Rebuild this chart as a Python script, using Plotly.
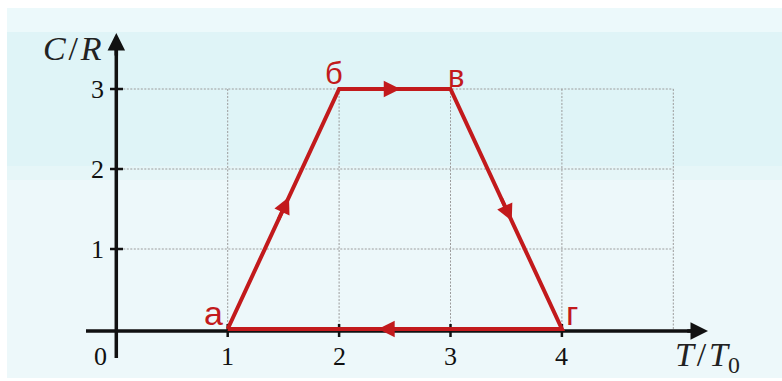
import plotly.graph_objects as go

# Cycle a -> б -> в -> г -> a in the (T/T0, C/R) plane
point_names = ["а", "б", "в", "г"]
t_values = [1, 2, 3, 4]          # T / T0
c_values = [0, 3, 3, 0]          # C / R

x_ticks = [0, 1, 2, 3, 4]
y_ticks = [1, 2, 3]
grid_x = [1, 2, 3, 4, 5]
grid_y = [1, 2, 3]

RED = "#c21a1c"
BLACK = "#111111"
GRID = "#9c9c9c"

W, H = 782, 381
X0_PX, X_SCALE = 116.3, 111.4      # pixel of T/T0 = 0, pixels per unit
Y0_PX, Y_SCALE = 329.0, 80.0       # pixel of C/R = 0, pixels per unit
x_range = [(0 - X0_PX) / X_SCALE, (W - X0_PX) / X_SCALE]
y_range = [(Y0_PX - H) / Y_SCALE, Y0_PX / Y_SCALE]


def px_x(p):
    return (p - X0_PX) / X_SCALE


def px_y(p):
    return (Y0_PX - p) / Y_SCALE


fig = go.Figure()

shapes = []


def band(y_top, y_bot, color, x_left=7):
    shapes.append(dict(type="rect", xref="paper", yref="paper",
                       x0=x_left / W, x1=1, y0=1 - y_bot / H, y1=1 - y_top / H,
                       fillcolor=color, line=dict(width=0), layer="below"))


# background panel
band(8, 32, "#ecf9fb")
band(32, 166, "#dff4f7")
band(166, 180, "#e6f6f8")
band(180, 378, "#edf8fa")

# dotted grid
for gx in grid_x:
    shapes.append(dict(type="line", x0=gx, x1=gx, y0=0, y1=3,
                       line=dict(color=GRID, width=1, dash="2px,1.5px"), layer="below"))
for gy in grid_y:
    shapes.append(dict(type="line", x0=0, x1=5, y0=gy, y1=gy,
                       line=dict(color=GRID, width=1, dash="2px,1.5px"), layer="below"))

# axis lines (arrowheads added as annotations)
x_axis_y = px_y(331)
x_tip = px_x(708)
y_tip = px_y(33)
shapes.append(dict(type="line", x0=px_x(86), x1=px_x(700), y0=x_axis_y, y1=x_axis_y,
                   line=dict(color=BLACK, width=3.5), layer="below"))
shapes.append(dict(type="line", x0=0, x1=0, y0=px_y(358), y1=px_y(41),
                   line=dict(color=BLACK, width=3.5), layer="below"))

# tick marks
for tx in x_ticks[1:]:
    shapes.append(dict(type="line", x0=tx, x1=tx, y0=px_y(324), y1=px_y(337),
                       line=dict(color=BLACK, width=2.5), layer="below"))
for ty in y_ticks:
    shapes.append(dict(type="line", x0=px_x(110), x1=px_x(123), y0=ty, y1=ty,
                       line=dict(color=BLACK, width=2.5), layer="below"))

# the cycle itself
fig.add_trace(go.Scatter(
    x=t_values + [t_values[0]], y=c_values + [c_values[0]],
    mode="lines", line=dict(color=RED, width=4),
    hoverinfo="skip", showlegend=False,
))

annotations = []

# axis arrowheads
annotations.append(dict(x=x_tip, y=x_axis_y, ax=x_tip - 0.2, ay=x_axis_y,
                        xref="x", yref="y", axref="x", ayref="y", text="",
                        showarrow=True, arrowhead=2, arrowsize=1, arrowwidth=3.5,
                        arrowcolor=BLACK))
annotations.append(dict(x=0, y=y_tip, ax=0, ay=y_tip - 0.3,
                        xref="x", yref="y", axref="x", ayref="y", text="",
                        showarrow=True, arrowhead=2, arrowsize=1, arrowwidth=3.5,
                        arrowcolor=BLACK))

# direction arrows on each leg of the cycle
ARROW_AT = 0.55
n = len(t_values)
for i in range(n):
    xa, ya = t_values[i], c_values[i]
    xb, yb = t_values[(i + 1) % n], c_values[(i + 1) % n]
    hx, hy = xa + ARROW_AT * (xb - xa), ya + ARROW_AT * (yb - ya)
    tx, ty = xa + (ARROW_AT - 0.1) * (xb - xa), ya + (ARROW_AT - 0.1) * (yb - ya)
    annotations.append(dict(x=hx, y=hy, ax=tx, ay=ty,
                            xref="x", yref="y", axref="x", ayref="y", text="",
                            showarrow=True, arrowhead=2, arrowsize=0.95, arrowwidth=3.5,
                            arrowcolor=RED))

# state labels
label_shift = {"а": (-14, 16), "б": (-5, 16), "в": (5, 13), "г": (10, 16)}
label_size = {"а": 34, "б": 31, "в": 31, "г": 34}
for name, tx, cy in zip(point_names, t_values, c_values):
    dx, dy = label_shift[name]
    annotations.append(dict(x=tx, y=cy, xref="x", yref="y", text=name, showarrow=False,
                            xshift=dx, yshift=dy,
                            font=dict(family="Liberation Sans, Arial, sans-serif",
                                      size=label_size[name], color=RED)))

SERIF = "Liberation Serif, Times New Roman, serif"
HAIR = "\u200a"

# tick labels
for tx in x_ticks:
    annotations.append(dict(x=tx if tx else px_x(100), y=px_y(356), xref="x", yref="y",
                            text=str(tx), showarrow=False,
                            font=dict(family=SERIF, size=26, color=BLACK)))
for ty in y_ticks:
    annotations.append(dict(x=px_x(106), y=ty, xref="x", yref="y", text=str(ty),
                            showarrow=False, xanchor="right",
                            font=dict(family=SERIF, size=26, color=BLACK)))

# axis titles
annotations.append(dict(x=px_x(104), y=px_y(48), xref="x", yref="y",
                        text=f"<i>C</i>{HAIR}/{HAIR}<i>R</i>", showarrow=False, xanchor="right",
                        font=dict(family=SERIF, size=34, color="#222222")))
annotations.append(dict(x=px_x(673), y=px_y(357), xref="x", yref="y",
                        text=f"<i>T</i>{HAIR}/{HAIR}<i>T</i><sub>0</sub>", showarrow=False,
                        xanchor="left",
                        font=dict(family=SERIF, size=34, color="#222222")))

fig.update_layout(
    width=W, height=H,
    margin=dict(l=0, r=0, t=0, b=0),
    paper_bgcolor="white",
    plot_bgcolor="rgba(0,0,0,0)",
    xaxis=dict(range=x_range, visible=False, fixedrange=True),
    yaxis=dict(range=y_range, visible=False, fixedrange=True),
    shapes=shapes,
    annotations=annotations,
    showlegend=False,
)

fig.write_html("out.html", config={"displayModeBar": False})
